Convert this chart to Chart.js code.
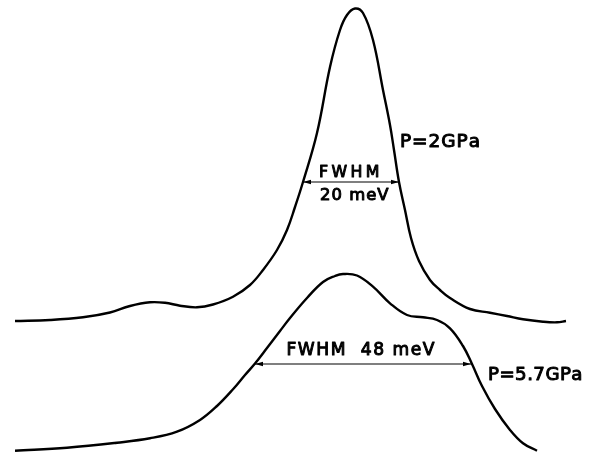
<!DOCTYPE html>
<html>
<head>
<meta charset="utf-8">
<script src="https://cdn.jsdelivr.net/npm/chart.js@4.4.0/dist/chart.umd.min.js"></script>
<style>
html, body { margin: 0; padding: 0; background: #fff; }
#wrap { width: 590px; height: 452px; }
</style>
</head>
<body>
<div id="wrap"><canvas id="spectra" width="590" height="452"></canvas></div>
<script>
// energy (arb. units) and intensity, spectra offset vertically
var energyLow = [15, 50, 83, 110, 130, 150, 165, 180, 197, 213, 233, 250, 263, 277, 287, 295, 303, 317, 330, 340, 347, 355, 363, 373, 383, 390, 394, 399, 405, 411, 419, 430, 440, 450, 470, 490, 507, 523, 543, 557, 566];
var countsLow = [131, 132, 134.7, 139.5, 146, 149.7, 149.2, 146.3, 144.7, 147.5, 155.3, 167, 182, 202, 222, 245, 270, 319, 385, 422, 437, 443.5, 439, 412, 362, 327, 302, 270, 242, 214, 191, 172, 162, 154, 143, 139.3, 136, 132.7, 130.3, 129.7, 131];

var energyHigh = [15, 67, 117, 150, 177, 200, 217, 233, 245, 255, 267, 280, 290, 307, 323, 335, 343, 357, 373, 390, 407, 423, 437, 450, 463, 472, 482, 495, 510, 523, 537];
var countsHigh = [1.3, 4.3, 9.3, 13.7, 20.3, 32, 46, 62.7, 77, 88.5, 104, 121, 134, 154, 170, 176, 178, 176.5, 165.3, 148.7, 137, 134.7, 132, 123.7, 106, 88, 66, 43, 22, 8.7, 1.3];

// full width at half maximum: left edge, right edge, level
var fwhmLow = [303, 399, 270];
var fwhmHigh = [255, 471, 88];

// text: left, right, baseline, cap height
var notes = [
  { text: "P=2GPa", from: 399.5, to: 480.5, at: 304.3, cap: 13.5 },
  { text: "FWHM", from: 318.5, to: 380, at: 274.7, cap: 11.5 },
  { text: "20 meV", from: 319.5, to: 389, at: 252, cap: 12 },
  { text: "FWHM  48 meV", from: 286, to: 435, at: 96.3, cap: 12.5 },
  { text: "P=5.7GPa", from: 487.5, to: 583, at: 72, cap: 13.3 }
];

function toPoints(xs, ys) {
  var pts = [];
  for (var i = 0; i < xs.length; i++) {
    pts.push({ x: xs[i], y: ys[i] });
  }
  return pts;
}

function drawArrow(ctx, x0, x1, y) {
  ctx.save();
  ctx.strokeStyle = "#000";
  ctx.fillStyle = "#000";
  ctx.lineWidth = 1.2;
  ctx.beginPath();
  ctx.moveTo(x0, y);
  ctx.lineTo(x1, y);
  ctx.stroke();
  ctx.beginPath();
  ctx.moveTo(x0, y);
  ctx.lineTo(x0 + 8, y - 2.3);
  ctx.lineTo(x0 + 8, y + 2.3);
  ctx.closePath();
  ctx.fill();
  ctx.beginPath();
  ctx.moveTo(x1, y);
  ctx.lineTo(x1 - 8, y - 2.3);
  ctx.lineTo(x1 - 8, y + 2.3);
  ctx.closePath();
  ctx.fill();
  ctx.restore();
}

function drawSpaced(ctx, str, left, right, base) {
  var widths = [];
  var total = 0;
  for (var i = 0; i < str.length; i++) {
    var w = ctx.measureText(str[i]).width;
    widths.push(w);
    total += w;
  }
  var extra = (right - left - total) / (str.length - 1);
  var x = left;
  for (var j = 0; j < str.length; j++) {
    ctx.fillText(str[j], x, base);
    ctx.strokeText(str[j], x, base);
    x += widths[j] + extra;
  }
}

var labelPlugin = {
  id: "labels",
  beforeDraw: function(chart) {
    var ctx = chart.ctx;
    ctx.save();
    ctx.fillStyle = "#fff";
    ctx.fillRect(0, 0, chart.width, chart.height);
    ctx.restore();
  },
  afterDatasetsDraw: function(chart) {
    var ctx = chart.ctx;
    var xs = chart.scales.x;
    var ys = chart.scales.y;
    [fwhmLow, fwhmHigh].forEach(function(f) {
      drawArrow(ctx, xs.getPixelForValue(f[0]), xs.getPixelForValue(f[1]), ys.getPixelForValue(f[2]));
    });
    ctx.save();
    ctx.fillStyle = "#000";
    ctx.strokeStyle = "#000";
    ctx.lineWidth = 1.0;
    ctx.lineJoin = "round";
    ctx.textBaseline = "alphabetic";
    ctx.textAlign = "left";
    notes.forEach(function(n) {
      var size = n.cap / 0.73;
      ctx.font = size.toFixed(1) + "px 'DejaVu Sans'";
      drawSpaced(ctx, n.text, xs.getPixelForValue(n.from) + 0.5, xs.getPixelForValue(n.to) - 0.5, ys.getPixelForValue(n.at) - 0.5);
    });
    ctx.restore();
  }
};

var ctxS = document.getElementById("spectra").getContext("2d");
var spectraChart = new Chart(ctxS, {
  type: "line",
  data: {
    datasets: [{
      label: "P = 2 GPa",
      data: toPoints(energyLow, countsLow),
      borderColor: "#000",
      borderWidth: 2.4,
      pointRadius: 0,
      tension: 0.4,
      fill: false
    }, {
      label: "P = 5.7 GPa",
      data: toPoints(energyHigh, countsHigh),
      borderColor: "#000",
      borderWidth: 2.4,
      pointRadius: 0,
      tension: 0.4,
      fill: false
    }]
  },
  options: {
    responsive: false,
    animation: false,
    layout: { padding: 0 },
    plugins: {
      legend: { display: false },
      tooltip: { enabled: false }
    },
    scales: {
      x: { type: "linear", min: 0, max: 590, display: false },
      y: { type: "linear", min: 0, max: 452, display: false }
    }
  },
  plugins: [labelPlugin]
});
</script>
</body>
</html>
